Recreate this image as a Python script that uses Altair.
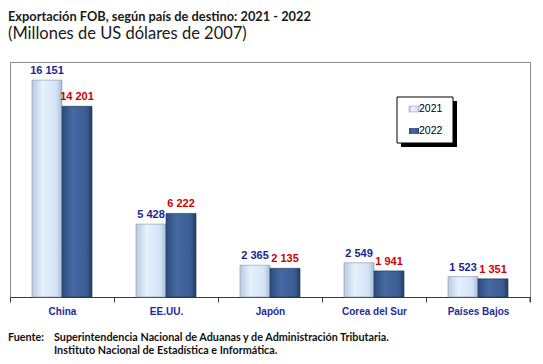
import altair as alt
import pandas as pd

countries = ["China", "EE.UU.", "Japón", "Corea del Sur", "Países Bajos"]
years = ["2021", "2022"]
values_2021 = [16151, 5428, 2365, 2549, 1523]
values_2022 = [14201, 6222, 2135, 1941, 1351]

title_text = "Exportación FOB, según país de destino: 2021 - 2022"
subtitle_text = "(Millones de US dólares de 2007)"
source_label = "Fuente:"
source_lines = ["Superintendencia Nacional de Aduanas y de Administración Tributaria.",
                "Instituto Nacional de Estadística e Informática."]

rows = []
for c, a, b in zip(countries, values_2021, values_2022):
    rows.append({"country": c, "year": "2021", "value": a, "label": f"{a:,}".replace(",", " ")})
    rows.append({"country": c, "year": "2022", "value": b, "label": f"{b:,}".replace(",", " ")})
df = pd.DataFrame(rows)

W, H = 520, 235
FONT = "Liberation Sans"
TFONT = "Lato"

xenc = alt.X("country:N", sort=countries,
             scale=alt.Scale(paddingInner=0, paddingOuter=0),
             axis=alt.Axis(title=None, tickBand="extent", tickSize=5, domainColor="#3a3a3a",
                           tickColor="#3a3a3a", labelColor="#1f2b9c", labelFont=FONT,
                           labelFontWeight="bold", labelFontSize=10, labelPadding=4,
                           labelAngle=0))
xoff = alt.XOffset("year:N", scale=alt.Scale(domain=years, paddingInner=0, paddingOuter=0.733))
yenc = alt.Y("value:Q", scale=alt.Scale(domain=[0, 17500]), axis=None)

light = alt.Gradient(gradient="linear", x1=0, x2=1, y1=0, y2=0,
                     stops=[alt.GradientStop(color="#b8cbe3", offset=0),
                            alt.GradientStop(color="#e6f1fd", offset=0.35),
                            alt.GradientStop(color="#d4e5f8", offset=0.8),
                            alt.GradientStop(color="#a9bdd8", offset=1)])
dark = alt.Gradient(gradient="linear", x1=0, x2=1, y1=0, y2=0,
                    stops=[alt.GradientStop(color="#2c4c7e", offset=0),
                           alt.GradientStop(color="#4469a0", offset=0.35),
                           alt.GradientStop(color="#3b5e94", offset=0.8),
                           alt.GradientStop(color="#233f6b", offset=1)])

base = alt.Chart(df)
bars21 = base.transform_filter(alt.datum.year == "2021").mark_bar(
    fill=light, stroke="#8895a8", strokeWidth=0.6).encode(x=xenc, xOffset=xoff, y=yenc)
bars22 = base.transform_filter(alt.datum.year == "2022").mark_bar(
    fill=dark, stroke="#1f2f4f", strokeWidth=0.6).encode(x=xenc, xOffset=xoff, y=yenc)

labels = base.mark_text(baseline="bottom", dy=-4, font=FONT, fontWeight="bold", fontSize=11).encode(
    x=xenc, xOffset=xoff, y=yenc, text="label:N",
    color=alt.Color("year:N", scale=alt.Scale(domain=years, range=["#1a1f9a", "#d00000"]), legend=None))

# right edge tick
edge = alt.Chart(pd.DataFrame({"k": [0]})).mark_rule(color="#3a3a3a").encode(
    x=alt.value(W), y=alt.value(H), y2=alt.value(H + 5))

# legend (manual, with shadow)
ldf = pd.DataFrame({"k": [0]})
shadow = alt.Chart(ldf).mark_rect(fill="#000000").encode(
    x=alt.value(391), x2=alt.value(447), y=alt.value(39), y2=alt.value(85))
box = alt.Chart(ldf).mark_rect(fill="white", stroke="#000000", strokeWidth=1).encode(
    x=alt.value(387), x2=alt.value(443), y=alt.value(35), y2=alt.value(81))
sw1 = alt.Chart(ldf).mark_rect(fill=light, stroke="#8895a8", strokeWidth=0.5).encode(
    x=alt.value(399), x2=alt.value(409), y=alt.value(44), y2=alt.value(50))
sw2 = alt.Chart(ldf).mark_rect(fill=dark).encode(
    x=alt.value(399), x2=alt.value(409), y=alt.value(66), y2=alt.value(72))
lt1 = alt.Chart(pd.DataFrame({"t": [years[0]]})).mark_text(
    align="left", baseline="middle", font=FONT, fontSize=10.5, color="#000").encode(
    x=alt.value(409), y=alt.value(47), text="t:N")
lt2 = alt.Chart(pd.DataFrame({"t": [years[1]]})).mark_text(
    align="left", baseline="middle", font=FONT, fontSize=10.5, color="#000").encode(
    x=alt.value(409), y=alt.value(69), text="t:N")

# titles
t1 = alt.Chart(pd.DataFrame({"t": [title_text]})).mark_text(
    align="left", baseline="alphabetic", font=TFONT, fontWeight="bold", fontSize=12.8, color="#1a1a1a").encode(
    x=alt.value(-2), y=alt.value(-41), text="t:N")
t2 = alt.Chart(pd.DataFrame({"t": [subtitle_text]})).mark_text(
    align="left", baseline="alphabetic", font=TFONT, fontSize=16.5, color="#1a1a1a").encode(
    x=alt.value(-2), y=alt.value(-23), text="t:N")
f0 = alt.Chart(pd.DataFrame({"t": [source_label]})).mark_text(
    align="left", baseline="middle", font=TFONT, fontWeight="bold", fontSize=10.8, color="#111").encode(
    x=alt.value(-2), y=alt.value(276), text="t:N")
f1 = alt.Chart(pd.DataFrame({"t": [source_lines[0]]})).mark_text(
    align="left", baseline="middle", font=TFONT, fontWeight="bold", fontSize=10.8, color="#111").encode(
    x=alt.value(44), y=alt.value(276), text="t:N")
f2 = alt.Chart(pd.DataFrame({"t": [source_lines[1]]})).mark_text(
    align="left", baseline="middle", font=TFONT, fontWeight="bold", fontSize=10.8, color="#111").encode(
    x=alt.value(44), y=alt.value(289), text="t:N")

chart = alt.layer(bars21, bars22, labels, edge, shadow, box, sw1, sw2, lt1, lt2, t1, t2, f0, f1, f2).properties(
    width=W, height=H,
    padding={"left": 2, "top": 54, "right": 5, "bottom": 60},
    autosize=alt.AutoSizeParams(type="none"),
    background="white",
).configure_view(stroke="#8c8c8c", strokeWidth=1)

chart.save("out.html", embed_options={"renderer": "svg", "actions": False})
